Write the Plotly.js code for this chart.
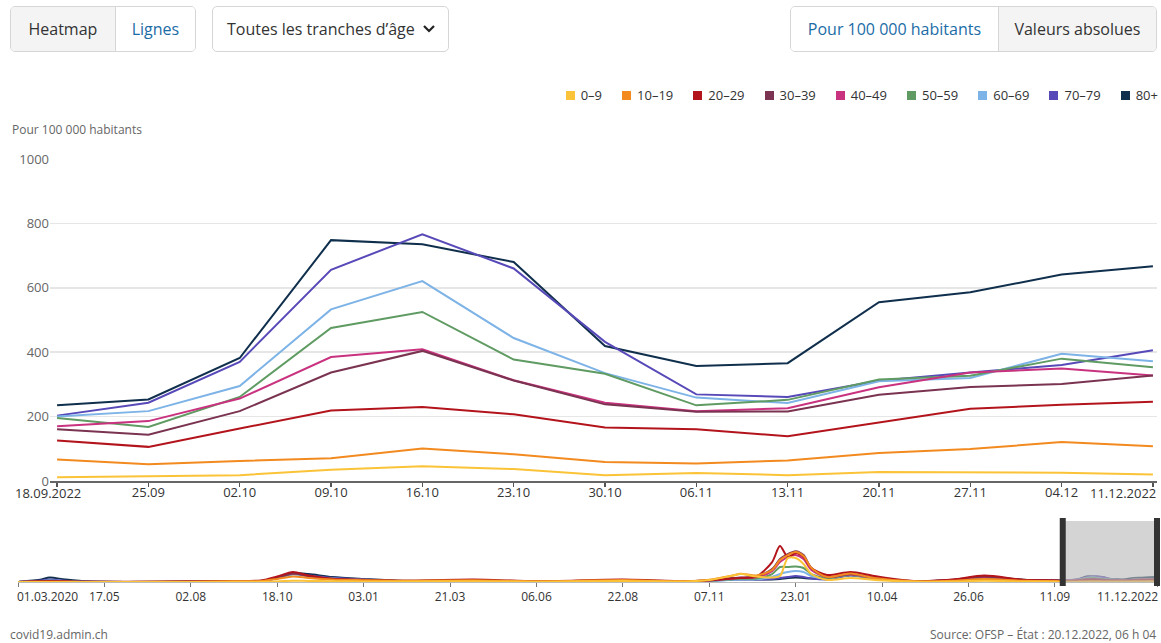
<!DOCTYPE html>
<html>
<head>
<meta charset="utf-8">
<script src="https://cdn.plot.ly/plotly-3.0.1.min.js"></script>
<style>
  html, body { margin:0; padding:0; background:#fff; }
  #wrap { position:relative; width:1161px; height:643px; overflow:hidden; font-family:"Open Sans", "Noto Sans", sans-serif; }
  #chart { position:absolute; left:0; top:0; width:1161px; height:643px; }
  .grp { position:absolute; top:6px; height:46px; border:1px solid #d6d6d6; border-radius:5px; display:flex; overflow:hidden; box-sizing:border-box; font-size:16px; background:#fff; }
  .seg { display:flex; align-items:center; justify-content:center; box-sizing:border-box; height:100%; }
  .off { background:#f4f4f4; color:#333; }
  .on { background:#fff; color:#1b6ca6; }
  .sep { border-left:1px solid #d6d6d6; }
  #legend { position:absolute; top:86px; right:3px; display:flex; align-items:center; font-size:13px; color:#333; }
  .li { display:flex; align-items:center; margin-left:20px; }
  .sq { width:9px; height:9px; margin-right:6px; }
</style>
</head>
<body>
<div id="wrap">
  <div id="chart"></div>
  <div class="grp" style="left:10px;width:186px;">
    <div class="seg off" style="width:105px;">Heatmap</div>
    <div class="seg on sep" style="width:81px;">Lignes</div>
  </div>
  <div class="grp" style="left:212px;width:237px;">
    <div class="seg" style="width:100%;justify-content:space-between;padding:0 12px 0 14px;color:#333;">
      <span>Toutes les tranches d’âge</span>
      <svg width="14" height="10" viewBox="0 0 14 10"><polyline points="2,2 7,7 12,2" fill="none" stroke="#222" stroke-width="2.2"/></svg>
    </div>
  </div>
  <div class="grp" style="left:790px;width:367px;">
    <div class="seg on" style="width:208px;">Pour 100 000 habitants</div>
    <div class="seg off sep" style="width:159px;">Valeurs absolues</div>
  </div>
  <div id="legend"></div>
</div>
<script>
// ---------- data ----------
const groups = ['0–9','10–19','20–29','30–39','40–49','50–59','60–69','70–79','80+'];
const colors = ['#fbc337','#f28a1f','#b3141c','#7a3350','#c9327f','#5f9b62','#7db3e6','#5749b8','#0f2f4c'];

const mainDates = ['2022-09-18','2022-09-25','2022-10-02','2022-10-09','2022-10-16','2022-10-23','2022-10-30','2022-11-06','2022-11-13','2022-11-20','2022-11-27','2022-12-04','2022-12-11'];
const mainTickLabels = ['18.09.2022','25.09','02.10','09.10','16.10','23.10','30.10','06.11','13.11','20.11','27.11','04.12','11.12.2022'];

const v0_9   = [12, 16, 18, 35, 46, 37, 18, 25, 18, 28, 26, 26, 20];
const v10_19 = [67, 52, 62, 71, 101, 83, 59, 54, 64, 87, 99, 121, 108];
const v20_29 = [126, 106, 163, 219, 230, 207, 166, 161, 139, 181, 224, 237, 246];
const v30_39 = [161, 144, 217, 337, 404, 312, 238, 215, 216, 268, 292, 301, 328];
const v40_49 = [170, 186, 256, 385, 409, 313, 243, 217, 226, 291, 337, 349, 328];
const v50_59 = [196, 168, 261, 475, 525, 377, 333, 235, 252, 315, 327, 380, 353];
const v60_69 = [200, 217, 295, 533, 621, 444, 335, 259, 242, 310, 320, 395, 372];
const v70_79 = [203, 243, 370, 656, 766, 660, 432, 269, 261, 311, 337, 360, 406];
const v80    = [235, 253, 382, 748, 735, 680, 419, 357, 366, 555, 586, 641, 667];

// overview history (before the selected window), weekly values read at key dates
const ovDates = ['2020-03-01','2020-03-22','2020-03-29','2020-04-12','2020-05-03','2020-07-05','2020-08-30','2020-10-04','2020-10-18','2020-11-01','2020-11-15','2020-12-06','2021-01-03','2021-02-07','2021-04-11','2021-06-06','2021-08-22','2021-10-17','2021-11-07','2021-11-28','2021-12-05','2021-12-19','2022-01-02','2022-01-09','2022-01-16','2022-01-23','2022-01-30','2022-02-06','2022-02-20','2022-03-13','2022-04-03','2022-05-08','2022-06-12','2022-07-10','2022-08-14','2022-09-11'];
const ov0_9   = [2,10,15,10,3,10,25,40,80,175,135,110,80,65,110,40,135,80,270,870,1070,740,600,800,3220,3220,2420,1070,270,540,270,55,65,160,65,40];
const ov10_19 = [3,25,40,25,12,25,80,135,400,740,540,335,240,160,240,95,270,105,295,870,1110,870,1610,2950,3620,4020,3490,1880,670,1140,540,95,160,400,160,120];
const ov20_29 = [10,105,135,80,25,40,135,215,740,1340,870,430,295,175,320,105,320,105,240,470,535,740,2680,4830,3350,3890,3350,1880,940,1340,805,135,335,870,295,200];
const ov30_39 = [10,105,135,80,25,25,105,160,600,1140,805,400,270,160,255,80,270,95,240,535,600,740,1740,3080,3750,4150,3620,1880,670,1070,600,105,295,740,270,215];
const ov40_49 = [10,120,150,95,25,25,95,150,600,1140,805,400,270,150,215,65,200,80,215,480,565,645,1470,2680,3350,3620,3080,1610,670,1000,535,95,270,670,240,200];
const ov50_59 = [10,135,175,105,25,25,65,120,565,1100,805,430,270,135,175,55,150,65,175,375,430,480,1070,2010,2010,2080,1880,1070,535,940,470,95,240,600,215,200];
const ov60_69 = [10,135,200,120,25,15,55,105,510,1000,780,470,295,120,120,40,105,65,150,295,350,375,670,1070,1340,1470,1340,805,470,940,470,95,215,565,215,200];
const ov70_79 = [10,200,335,175,40,15,40,105,535,1070,870,565,350,120,80,25,80,65,160,310,350,335,400,535,670,805,670,470,335,870,430,95,215,580,240,215];
const ov80    = [15,335,600,335,65,15,40,120,600,1210,1070,670,400,135,80,25,95,80,190,350,375,350,335,400,535,600,535,470,400,940,470,105,270,670,295,240];

const ovTickDates = ['2020-03-01','2020-05-17','2020-08-02','2020-10-18','2021-01-03','2021-03-21','2021-06-06','2021-08-22','2021-11-07','2022-01-23','2022-04-10','2022-06-26','2022-09-11','2022-12-11'];
const ovTickLabels = ['01.03.2020','17.05','02.08','18.10','03.01','21.03','06.06','22.08','07.11','23.01','10.04','26.06','11.09','11.12.2022'];

const yTicks = [0, 200, 400, 600, 800, 1000];
const yTitle = 'Pour 100 000 habitants';
const footLeft = 'covid19.admin.ch';
const footRight = 'Source: OFSP – État : 20.12.2022, 06 h 04';

// ---------- build ----------
const mainSeries = [v0_9, v10_19, v20_29, v30_39, v40_49, v50_59, v60_69, v70_79, v80];
const ovSeries = [ov0_9, ov10_19, ov20_29, ov30_39, ov40_49, ov50_59, ov60_69, ov70_79, ov80];

// legend (HTML)
const leg = document.getElementById('legend');
groups.forEach((g, i) => {
  const d = document.createElement('div'); d.className = 'li';
  if (i === 0) d.style.marginLeft = '0';
  const s = document.createElement('div'); s.className = 'sq'; s.style.background = colors[i];
  const t = document.createElement('span'); t.textContent = g;
  d.appendChild(s); d.appendChild(t); leg.appendChild(d);
});

const W = 1161, H = 643;
const px = x => x / W, py = y => 1 - y / H;

const traces = [];
for (let i = groups.length - 1; i >= 0; i--) {
  traces.push({
    x: mainDates, y: mainSeries[i], type: 'scatter', mode: 'lines', name: groups[i],
    line: { color: colors[i], width: 2 }, xaxis: 'x', yaxis: 'y', showlegend: false, hoverinfo: 'skip'
  });
}
for (let i = groups.length - 1; i >= 0; i--) {
  traces.push({
    x: ovDates.concat(mainDates), y: ovSeries[i].concat(mainSeries[i]), type: 'scatter', mode: 'lines', name: groups[i],
    line: { color: colors[i], width: 2, shape: 'spline', smoothing: 0.8 }, xaxis: 'x2', yaxis: 'y2', showlegend: false, hoverinfo: 'skip'
  });
}

const font = { family: '"Open Sans", "Noto Sans", sans-serif' };
const layout = {
  width: W, height: H, margin: { l: 0, r: 0, t: 0, b: 0 },
  paper_bgcolor: '#fff', plot_bgcolor: 'rgba(0,0,0,0)', showlegend: false,
  font: Object.assign({ size: 13, color: '#333' }, font),
  xaxis: {
    domain: [px(50), px(1157)], type: 'date',
    range: ['2022-09-17 11:00', '2022-12-11 07:30'],
    tickvals: mainDates, ticktext: mainTickLabels.map((t, i) => (i === 0 || i === mainTickLabels.length - 1) ? '' : t),
    ticks: 'outside', ticklen: 4, tickwidth: 1.5, tickcolor: '#555', ticklabelstandoff: -6,
    showline: true, linecolor: '#666', linewidth: 2, showgrid: false, zeroline: false,
    tickfont: { size: 13, color: '#333' }, fixedrange: true
  },
  yaxis: {
    domain: [py(481), py(159)], range: [0, 1000], tickvals: yTicks,
    showgrid: true, gridcolor: '#e6e6e6', gridwidth: 1.5, zeroline: false, showline: false,
    ticks: '', tickfont: { size: 13, color: '#666' }, fixedrange: true
  },
  xaxis2: {
    domain: [px(18), px(1160)], type: 'date', anchor: 'y2',
    range: ['2020-03-01', '2022-12-13 16:00'],
    tickvals: ovTickDates, ticktext: ovTickLabels.map((t, i) => (i === 0 || i === ovTickLabels.length - 1) ? '' : t),
    ticks: 'outside', ticklen: 4, tickwidth: 1, tickcolor: '#777',
    showline: true, linecolor: '#bbb', linewidth: 1, showgrid: false, zeroline: false,
    tickfont: { size: 12, color: '#333' }, fixedrange: true
  },
  yaxis2: {
    domain: [py(582), py(521)], range: [0, 8200], anchor: 'x2',
    tickvals: [8200], showticklabels: false, ticks: '',
    showgrid: true, gridcolor: '#e6e6e6', gridwidth: 1.5, zeroline: false, showline: false, fixedrange: true
  },
  shapes: [
    { type: 'rect', xref: 'x2', yref: 'y2 domain', x0: mainDates[0], x1: mainDates[mainDates.length - 1], y0: 0, y1: 1,
      fillcolor: 'rgb(186,186,186)', opacity: 0.62, line: { width: 0 }, layer: 'above' },
    { type: 'line', xref: 'x2', yref: 'paper', x0: mainDates[0], x1: mainDates[0], y0: py(586), y1: py(518),
      line: { color: '#333', width: 6 }, layer: 'above' },
    { type: 'line', xref: 'x2', yref: 'paper', x0: mainDates[mainDates.length - 1], x1: mainDates[mainDates.length - 1], y0: py(586), y1: py(518),
      line: { color: '#333', width: 6 }, layer: 'above' }
  ],
  annotations: [
    { xref: 'paper', yref: 'paper', x: px(10), y: py(129), xanchor: 'left', yanchor: 'middle', showarrow: false,
      text: yTitle, font: { size: 12, color: '#666' } },
    { xref: 'paper', yref: 'paper', x: px(13), y: py(493), xanchor: 'left', yanchor: 'middle', showarrow: false,
      text: mainTickLabels[0], font: { size: 13, color: '#333' } },
    { xref: 'paper', yref: 'paper', x: px(1158), y: py(493), xanchor: 'right', yanchor: 'middle', showarrow: false,
      text: mainTickLabels[mainTickLabels.length - 1], font: { size: 13, color: '#333' } },
    { xref: 'x2', yref: 'paper', x: ovTickDates[0], y: py(596), xanchor: 'left', yanchor: 'middle', showarrow: false, xshift: -3,
      text: ovTickLabels[0], font: { size: 12, color: '#333' } },
    { xref: 'x2', yref: 'paper', x: ovTickDates[ovTickDates.length - 1], y: py(596), xanchor: 'right', yanchor: 'middle', showarrow: false, xshift: 3,
      text: ovTickLabels[ovTickLabels.length - 1], font: { size: 12, color: '#333' } },
    { xref: 'paper', yref: 'paper', x: px(8), y: py(634), xanchor: 'left', yanchor: 'middle', showarrow: false,
      text: footLeft, font: { size: 12, color: '#666' } },
    { xref: 'paper', yref: 'paper', x: px(1158), y: py(634), xanchor: 'right', yanchor: 'middle', showarrow: false,
      text: footRight, font: { size: 12, color: '#666' } }
  ]
};

Plotly.newPlot('chart', traces, layout, { staticPlot: true, displayModeBar: false });
</script>
</body>
</html>
